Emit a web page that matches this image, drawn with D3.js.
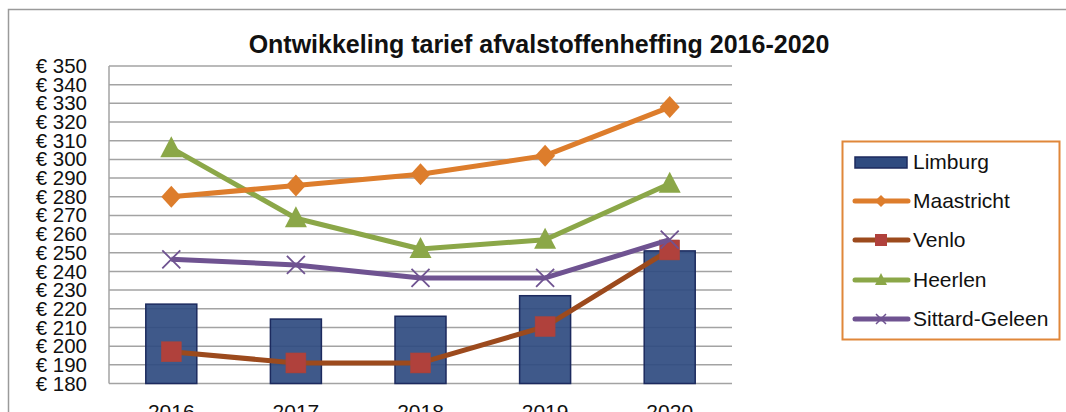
<!DOCTYPE html>
<html><head><meta charset="utf-8">
<script src="https://cdn.jsdelivr.net/npm/d3@7"></script>
<style>body{margin:0;background:#fff}svg{display:block}</style>
</head><body><svg id="c" width="1066" height="412"></svg>
<script>
const years = ["2016","2017","2018","2019","2020"];
const yTicks = [180,190,200,210,220,230,240,250,260,270,280,290,300,310,320,330,340,350];
const limburg = [222.5, 214.5, 216, 227, 251];
const maastricht = [280, 286, 292, 302, 328];
const venlo = [197, 191, 191, 210.5, 251.5];
const heerlen = [306, 268.5, 252, 257, 287];
const sittard = [246.5, 243.5, 236.5, 236.5, 257];
const seriesNames = ["Limburg","Maastricht","Venlo","Heerlen","Sittard-Geleen"];

const svg = d3.select("#c");
const font = "'Liberation Sans', Arial, sans-serif";
const x0 = 109, x1 = 732, yTop = 66, yBot = 383.5;
const x = d3.scaleBand().domain(years).range([x0, x1]);
const y = d3.scaleLinear().domain([180, 350]).range([yBot, yTop]);

// outer frame
svg.append("path").attr("d", `M8.5,412 L8.5,9.5 L1066,9.5`).attr("fill","none").attr("stroke","#9a9a9a").attr("stroke-width",1.5);

// title
svg.append("text").attr("x", 539).attr("y", 53).attr("text-anchor","middle")
  .attr("font-family", font).attr("font-weight","bold").attr("font-size", 25).attr("fill","#111")
  .text("Ontwikkeling tarief afvalstoffenheffing 2016-2020");

// gridlines
const g = svg.append("g");
g.selectAll("line.grid").data(yTicks).join("line")
  .attr("x1", x0).attr("x2", x1).attr("y1", d=>y(d)).attr("y2", d=>y(d))
  .attr("stroke","#a3a3a3").attr("stroke-width",1.5);
g.append("line").attr("x1",x0).attr("x2",x0).attr("y1",yTop).attr("y2",yBot).attr("stroke","#a3a3a3").attr("stroke-width",1.5);

// y labels
const yAxis = d3.axisLeft(y).tickValues(yTicks).tickSize(0).tickPadding(0).tickFormat(d => "€ " + d);
const ya = svg.append("g").attr("transform", `translate(87,0)`).call(yAxis);
ya.select(".domain").remove();
ya.selectAll("text").attr("font-family", font).attr("font-size", 20.5).attr("fill","#111");

// x labels
const xAxis = d3.axisBottom(x).tickSize(0).tickPadding(0);
const xa = svg.append("g").attr("transform", `translate(0,${yBot})`).call(xAxis);
xa.select(".domain").remove();
xa.selectAll("text").attr("font-family", font).attr("font-size", 21).attr("fill","#111").attr("dy", null).attr("y", 35);

// bars
const bw = 51;
svg.append("g").selectAll("rect").data(limburg).join("rect")
  .attr("x", (d,i)=> x(years[i]) + x.bandwidth()/2 - bw/2)
  .attr("y", d=>y(d)).attr("width", bw).attr("height", d=> yBot - y(d))
  .attr("fill","#2f4b80").attr("fill-opacity",0.92).attr("stroke","#1c2a5e").attr("stroke-width",1.5);

const cx = i => x(years[i]) + x.bandwidth()/2;
const line = d3.line().x((d,i)=>cx(i)).y(d=>y(d));

function drawLine(data, color){
  svg.append("path").datum(data).attr("d", line).attr("fill","none").attr("stroke",color).attr("stroke-width",5).attr("stroke-linejoin","round");
}
const colMaas = "#dd7d2c", colVenloL = "#9c4a1d", colVenloM = "#b0413c", colHeer = "#8ba748", colSit = "#6f5391";

drawLine(venlo, colVenloL);
svg.append("g").selectAll("rect").data(venlo).join("rect")
  .attr("x",(d,i)=>cx(i)-10).attr("y",d=>y(d)-10).attr("width",20).attr("height",20)
  .attr("fill",colVenloM).attr("stroke","#a5463c").attr("stroke-width",0.5);

drawLine(sittard, colSit);
const xs = svg.append("g");
sittard.forEach((d,i)=>{
  const px = cx(i), py = y(d), s = 9;
  xs.append("path").attr("d", `M${px-s},${py-s}L${px+s},${py+s}M${px+s},${py-s}L${px-s},${py+s}`)
    .attr("stroke", colSit).attr("stroke-width",1.8).attr("fill","none");
});

drawLine(heerlen, colHeer);
svg.append("g").selectAll("path").data(heerlen).join("path")
  .attr("d",(d,i)=>{const px=cx(i),py=y(d);return `M${px},${py-12}L${px+11},${py+9}L${px-11},${py+9}Z`;})
  .attr("fill",colHeer);

drawLine(maastricht, colMaas);
svg.append("g").selectAll("path").data(maastricht).join("path")
  .attr("d",(d,i)=>{const px=cx(i),py=y(d);return `M${px},${py-11}L${px+10},${py}L${px},${py+11}L${px-10},${py}Z`;})
  .attr("fill",colMaas);

// legend
const lg = svg.append("g");
lg.append("rect").attr("x",842.5).attr("y",141.5).attr("width",217).attr("height",198)
  .attr("fill","#fff").attr("stroke","#e0873a").attr("stroke-width",2);
const rowY = [162, 201, 240, 280, 319];
const cols = [null, colMaas, colVenloL, colHeer, colSit];
seriesNames.forEach((n,i)=>{
  const yy = rowY[i];
  if(i===0){
    lg.append("rect").attr("x",855).attr("y",yy-5).attr("width",52).attr("height",11)
      .attr("fill","#2f4b80").attr("stroke","#1c2a5e").attr("stroke-width",1.5);
  } else {
    lg.append("line").attr("x1",855).attr("x2",908).attr("y1",yy).attr("y2",yy)
      .attr("stroke",cols[i]).attr("stroke-width",5).attr("stroke-linecap","round");
    const mx = 881;
    if(i===1) lg.append("path").attr("d",`M${mx},${yy-6}L${mx+6},${yy}L${mx},${yy+6}L${mx-6},${yy}Z`).attr("fill",colMaas);
    if(i===2) lg.append("rect").attr("x",mx-6).attr("y",yy-6).attr("width",12).attr("height",12).attr("fill",colVenloM);
    if(i===3) lg.append("path").attr("d",`M${mx},${yy-7}L${mx+6},${yy+5}L${mx-6},${yy+5}Z`).attr("fill",colHeer);
    if(i===4) lg.append("path").attr("d",`M${mx-5},${yy-5}L${mx+5},${yy+5}M${mx+5},${yy-5}L${mx-5},${yy+5}`).attr("stroke",colSit).attr("stroke-width",1.5);
  }
  lg.append("text").attr("x",913).attr("y",yy).attr("dy","0.35em").attr("font-family",font).attr("font-size",21).attr("fill","#111").text(n);
});
</script>
</body></html>
